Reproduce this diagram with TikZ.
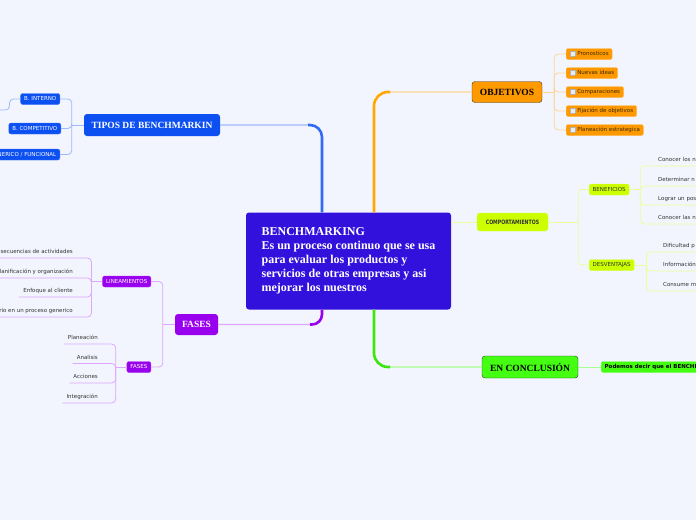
\documentclass[tikz,border=0pt]{standalone}
\usepackage{fontspec}
\setmainfont{Liberation Serif}
\newfontfamily\djv{DejaVu Sans}
\newfontfamily\djvn{DejaVu Sans}[FakeStretch=0.78]
\usetikzlibrary{calc}
\definecolor{bg}{HTML}{F2F5FD}
\definecolor{cmain}{HTML}{3311DD}
\definecolor{cblue}{HTML}{0D50F2}
\definecolor{cbluel}{HTML}{9DB9FF}
\definecolor{corange}{HTML}{FF9900}
\definecolor{corangel}{HTML}{FFD596}
\definecolor{corangeb}{HTML}{FFB84D}
\definecolor{cpurple}{HTML}{9900EE}
\definecolor{cpurplel}{HTML}{DDA6FF}
\definecolor{cyg}{HTML}{CCFF00}
\definecolor{cygl}{HTML}{EAFF99}
\definecolor{cgreen}{HTML}{44FF11}
\definecolor{cgreenl}{HTML}{A8FF90}
\definecolor{ctext}{HTML}{333333}
\definecolor{cbrown}{HTML}{3D2A00}
\newcommand\mychk{{\setlength\fboxsep{0pt}\setlength\fboxrule{0.3pt}\fcolorbox{black!30}{black!8}{\rule{0pt}{4.5pt}\rule{4.5pt}{0pt}}}\hspace{2.5pt}}
\begin{document}
\begin{tikzpicture}[x=1pt,y=-1pt,
  rc/.style={rounded corners=4},
  topic/.style={rounded corners=3, inner sep=0, align=center, font=\bfseries\fontsize{9.5}{11}\selectfont},
  subbox/.style={rounded corners=2, inner xsep=3.5, inner ysep=0, minimum height=11, text height=4, text depth=0.3, font=\djv\fontsize{5.5}{6.5}\selectfont},
  subB/.style={subbox, fill=cblue, draw=cblue!80!white, text=white},
  subP/.style={subbox, fill=cpurple, draw=cpurple!80!white, text=white},
  subO/.style={subbox, fill=corange, draw=corangeb, text=cbrown},
  subY/.style={subbox, fill=cyg, draw=cyg!70!white, text=ctext},
  subG/.style={subbox, fill=cgreen, draw=cgreen!70!white, text=black, font=\djv\bfseries\fontsize{5.5}{6.5}\selectfont},
  leafL/.style={anchor=south east, inner xsep=2, inner ysep=4, text depth=0, font=\djv\fontsize{5.5}{6.5}\selectfont, text=ctext},
  leafR/.style={anchor=south west, inner xsep=2, inner ysep=4, text depth=0, text width=46, align=left, font=\djv\fontsize{5.5}{6.5}\selectfont, text=ctext},
  lB/.style={draw=cbluel, line width=0.8},
  lP/.style={draw=cpurplel, line width=0.8},
  lO/.style={draw=corangel, line width=0.8},
  lY/.style={draw=cygl, line width=0.8},
  lG/.style={draw=cgreenl, line width=0.8}]
\useasboundingbox (0,0) rectangle (696,520);
\fill[bg] (0,0) rectangle (696,520);
\clip (0,0) rectangle (696,520);

% central node
\node[fill=cmain, rounded corners=3, minimum width=205, minimum height=97, inner sep=0, text=white,
  font=\bfseries\fontsize{12}{14}\selectfont, align=left] (c) at (348.5,261)
  {BENCHMARKING\\Es un proceso continuo que se usa\\para evaluar los productos y\\servicios de otras empresas y asi\\mejorar los nuestros};

% main topics
\node[topic, fill=cblue, text=white, minimum width=136, minimum height=22] (tipos) at (152,125) {TIPOS DE BENCHMARKIN};
\node[topic, fill=corange, draw=black!80, text=black, minimum width=70, minimum height=21] (obj) at (507,92) {OBJETIVOS};
\node[rounded corners=3, fill=cyg, draw=cyg!80!white, inner sep=0, minimum width=71, minimum height=18, text=ctext,
  font=\djvn\bfseries\fontsize{6}{7}\selectfont] (comp) at (512.5,222) {COMPORTAMIENTOS};
\node[topic, fill=cgreen, draw=black!80, text=black, minimum width=96, minimum height=22] (concl) at (530,367) {EN CONCLUSIÓN};
\node[topic, fill=cpurple, text=white, minimum width=43, minimum height=21] (fases) at (196.5,324.5) {FASES};

% main connectors (tapered: thin light full path, thick coloured trunk with its corner)
\coordinate (cn1) at ([xshift=-26.5]c.north);
\coordinate (cn2) at ([xshift=25.5]c.north);
\coordinate (cs1) at ([xshift=-26.5]c.south);
\coordinate (cs2) at ([xshift=25.5]c.south);
\draw[draw=cbluel, line width=1.2, rounded corners=12] (cn1) |- (tipos.east);
\draw[draw=cblue!85!white, line width=2.6, rounded corners=12] (cn1) |- ($(cn1 |- tipos.east)+(-14,0)$);
\draw[draw=corangel, line width=1.2, rounded corners=14] (cn2) |- (obj.west);
\draw[draw=corange!85!yellow, line width=2.6, rounded corners=14] (cn2) |- ($(cn2 |- obj.west)+(16,0)$);
\draw[draw=cpurplel, line width=1.2, rounded corners=10] (cs1) |- (fases.east);
\draw[draw=cpurple, line width=2.6, rounded corners=10] (cs1) |- ($(cs1 |- fases.east)+(-12,0)$);
\draw[draw=cgreenl, line width=1.2, rounded corners=14] (cs2) |- (concl.west);
\draw[draw=cgreen!90!black, line width=2.6, rounded corners=14] (cs2) |- ($(cs2 |- concl.west)+(16,0)$);
\draw[lY] (c.east |- comp.west) -- (comp.west);

% TIPOS branch
\node[subB, anchor=east] (bint) at (60,99) {B. INTERNO};
\node[subB, anchor=east] (bcomp) at (61,128.5) {B. COMPETITIVO};
\node[subB, anchor=east] (bgen) at (60,154.5) {B. GENERICO / FUNCIONAL};
\coordinate (bintc) at (-5,110);
\draw[lB] (tipos.west) -- ++(-12,0) coordinate (tb);
\draw[lB, rc] (tb) |- (bint.east);
\draw[lB, rc] (tb) |- (bcomp.east);
\draw[lB, rc] (tb) |- (bgen.east);
\draw[lB, rc] (bint.west) -- ++(-11,0) |- (bintc);

% OBJETIVOS branch
\node[subO, anchor=west] (o1) at (566,54) {\mychk Pronosticos};
\node[subO, anchor=west] (o2) at (566,73) {\mychk Nuevas ideas};
\node[subO, anchor=west] (o3) at (566,92) {\mychk Comparaciones};
\node[subO, anchor=west] (o4) at (566,111) {\mychk Fijación de objetivos};
\node[subO, anchor=west] (o5) at (566,130) {\mychk Planeación estrategica};
\draw[lO] (obj.east) -- ++(12,0) coordinate (ob);
\foreach \n in {o1,o2,o3,o4,o5} \draw[lO, rc] (ob) |- (\n.west);

% COMPORTAMIENTOS branch
\node[subY, anchor=west] (ben) at (589,189.5) {BENEFICIOS};
\node[subY, anchor=west] (des) at (589,265) {DESVENTAJAS};
\draw[lY] (comp.east) -- ++(30,0) coordinate (cb);
\draw[lY, rc] (cb) |- (ben.west);
\draw[lY, rc] (cb) |- (des.west);
\node[leafR] (b1) at (656,166) {Conocer los n};
\node[leafR] (b2) at (656,186) {Determinar n};
\node[leafR] (b3) at (656,205) {Lograr un pos};
\node[leafR] (b4) at (656,224) {Conocer las n};
\draw[lY] (ben.east) -- ++(11,0) coordinate (bb);
\foreach \n in {b1,b2,b3,b4} \draw[lY, rc] (bb) |- (\n.south west) -- (\n.south east);
\node[leafR] (d1) at (661,252) {Dificultad p};
\node[leafR] (d2) at (661,271) {Información};
\node[leafR] (d3) at (661,291) {Consume m};
\draw[lY] (des.east) -- ++(12,0) coordinate (db);
\foreach \n in {d1,d2,d3} \draw[lY, rc] (db) |- (\n.south west) -- (\n.south east);

% CONCLUSION branch
\node[subG, anchor=west] (pod) at (601,367) {Podemos decir que el BENCHM};
\draw[lG] (concl.east) -- (pod.west);

% FASES branch
\node[subP, anchor=east] (lin) at (151,281.5) {LINEAMIENTOS};
\node[subP, anchor=east] (fs) at (151,367) {FASES};
\draw[lP] (fases.west) -- ++(-12,0) coordinate (fb);
\draw[lP, rc] (fb) |- (lin.east);
\draw[lP, rc] (fb) |- (fs.east);
\node[leafL] (l1) at (75,258) {secuencias de actividades};
\node[leafL] (l2) at (75,278) {Planificación y organización};
\node[leafL] (l3) at (75,297) {Enfoque al cliente};
\node[leafL] (l4) at (75,317) {rio en un proceso generico};
\draw[lP] (lin.west) -- ++(-11,0) coordinate (lb);
\foreach \n in {l1,l2,l3,l4} \draw[lP, rc] (lb) |- (\n.south east) -- ([xshift=-2]\n.south west);
\node[leafL] (f1) at (100,344) {Planeación};
\node[leafL] (f2) at (100,363.5) {Analisis};
\node[leafL] (f3) at (100,383) {Acciones};
\node[leafL] (f4) at (100,403) {Integración};
\draw[lP] (fs.west) -- ++(-11,0) coordinate (fsb);
\foreach \n in {f1,f2,f3,f4} \draw[lP, rc] (fsb) |- (\n.south east) -- ([xshift=-2]\n.south west);
\end{tikzpicture}
\end{document}
